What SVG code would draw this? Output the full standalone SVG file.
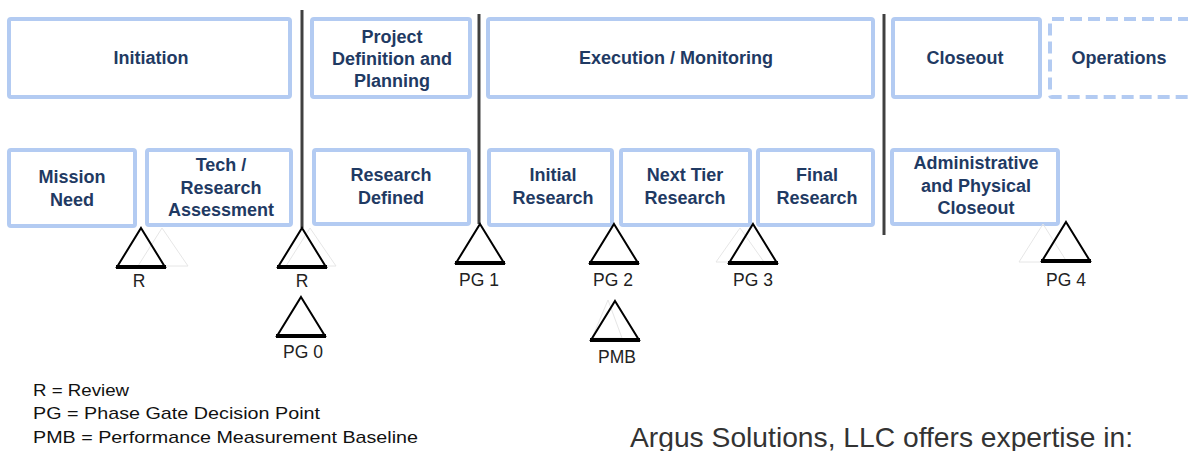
<svg xmlns="http://www.w3.org/2000/svg" width="1188" height="451" viewBox="0 0 1188 451">
<style>
.box{fill:#fff;stroke:#b3cbf2;stroke-width:4}
.dash{fill:#fff;stroke:#b3cbf2;stroke-width:4;stroke-dasharray:12 6}
.bt{font-family:"Liberation Sans",Arial,sans-serif;font-weight:bold;font-size:18px;fill:#1f3a63;text-anchor:middle}
.tri{fill:none;stroke:#000;stroke-width:2;stroke-linejoin:miter}
.base{stroke:#000;stroke-width:4}
.ghost{fill:none;stroke:#e6e6e6;stroke-width:1}
.lbl{font-family:"Liberation Sans",Arial,sans-serif;font-size:17.5px;fill:#222;text-anchor:middle}
.leg{font-family:"Liberation Sans",Arial,sans-serif;font-size:17px;fill:#111}
.sep{stroke:#404040;stroke-width:3}
</style>
<defs>
<g id="triangle">
<polygon class="tri" points="0,0 24,39 -24,39"/>
<line class="base" x1="-25" y1="39" x2="25" y2="39"/>
</g>
</defs>
<g id="connectors">
<line class="sep" x1="302" y1="10" x2="302" y2="228"/>
<line class="sep" x1="479" y1="14" x2="479" y2="224"/>
<line class="sep" x1="884" y1="14" x2="884" y2="235"/>
</g>
<g id="initiation"><rect class="box" x="9" y="19" width="281" height="78" rx="2"/><text class="bt" x="151" y="64">Initiation</text></g>
<g id="project-definition"><rect class="box" x="312" y="19" width="158" height="78" rx="2"/><text class="bt" x="392" y="43">Project</text><text class="bt" x="392" y="65">Definition  and</text><text class="bt" x="392" y="87">Planning</text></g>
<g id="execution"><rect class="box" x="488" y="19" width="385" height="78" rx="2"/><text class="bt" x="676" y="64">Execution  / Monitoring</text></g>
<g id="closeout"><rect class="box" x="893" y="19" width="147" height="78" rx="2"/><text class="bt" x="965" y="64">Closeout</text></g>
<g id="operations"><rect class="dash" x="1050" y="19" width="140" height="78" rx="2"/><text class="bt" x="1119" y="64">Operations</text></g>
<g id="mission-need"><rect class="box" x="9" y="150" width="126" height="76" rx="2"/><text class="bt" x="72" y="183">Mission</text><text class="bt" x="72" y="206">Need</text></g>
<g id="tech-research"><rect class="box" x="147" y="150" width="144" height="75" rx="2"/><text class="bt" x="221" y="171">Tech  /</text><text class="bt" x="221" y="194">Research</text><text class="bt" x="221" y="216">Assessment</text></g>
<g id="research-defined"><rect class="box" x="314" y="150" width="155" height="74" rx="2"/><text class="bt" x="391" y="181">Research</text><text class="bt" x="391" y="204">Defined</text></g>
<g id="initial-research"><rect class="box" x="489" y="150" width="123" height="75" rx="2"/><text class="bt" x="553" y="181">Initial</text><text class="bt" x="553" y="204">Research</text></g>
<g id="next-tier-research"><rect class="box" x="621" y="150" width="129" height="75" rx="2"/><text class="bt" x="685" y="181">Next Tier</text><text class="bt" x="685" y="204">Research</text></g>
<g id="final-research"><rect class="box" x="758" y="150" width="115" height="75" rx="2"/><text class="bt" x="817" y="181">Final</text><text class="bt" x="817" y="204">Research</text></g>
<g id="admin-closeout"><rect class="box" x="892" y="150" width="166" height="74" rx="2"/><text class="bt" x="976" y="169">Administrative</text><text class="bt" x="976" y="192">and Physical</text><text class="bt" x="976" y="214">Closeout</text></g>
<g id="ghosts">
<polygon class="ghost" points="162,228 188,266 138,266"/>
<polygon class="ghost" points="310,228 336,266 286,266"/>
<polygon class="ghost" points="740,228 764,262 716,262"/>
<polygon class="ghost" points="1043,224 1067,262 1019,262"/>
<polygon class="ghost" points="608,300 622,338 592,338"/>
</g>
<g id="review-1"><use href="#triangle" x="141" y="228"/><text class="lbl" x="139" y="287">R</text></g>
<g id="review-2"><use href="#triangle" x="302" y="228"/><text class="lbl" x="302" y="287">R</text></g>
<g id="pg0"><use href="#triangle" x="301" y="297"/><text class="lbl" x="303" y="358">PG 0</text></g>
<g id="pg1"><use href="#triangle" x="480" y="224"/><text class="lbl" x="479" y="286">PG 1</text></g>
<g id="pg2"><use href="#triangle" x="614" y="224"/><text class="lbl" x="613" y="286">PG 2</text></g>
<g id="pmb"><use href="#triangle" x="615" y="301"/><text class="lbl" x="617" y="363">PMB</text></g>
<g id="pg3"><use href="#triangle" x="753" y="224"/><text class="lbl" x="753" y="286">PG 3</text></g>
<g id="pg4"><use href="#triangle" x="1066" y="222"/><text class="lbl" x="1066" y="286">PG 4</text></g>
<g id="legend">
<text class="leg" x="33" y="396" textLength="96" lengthAdjust="spacingAndGlyphs">R = Review</text>
<text class="leg" x="33" y="419" textLength="287" lengthAdjust="spacingAndGlyphs">PG = Phase  Gate  Decision Point</text>
<text class="leg" x="33" y="443" textLength="385" lengthAdjust="spacingAndGlyphs">PMB = Performance Measurement  Baseline</text>
</g>
<text x="630" y="447" font-family="Liberation Sans,Arial,sans-serif" font-size="28" fill="#333" textLength="503" lengthAdjust="spacingAndGlyphs">Argus Solutions, LLC offers expertise in:</text>
</svg>
